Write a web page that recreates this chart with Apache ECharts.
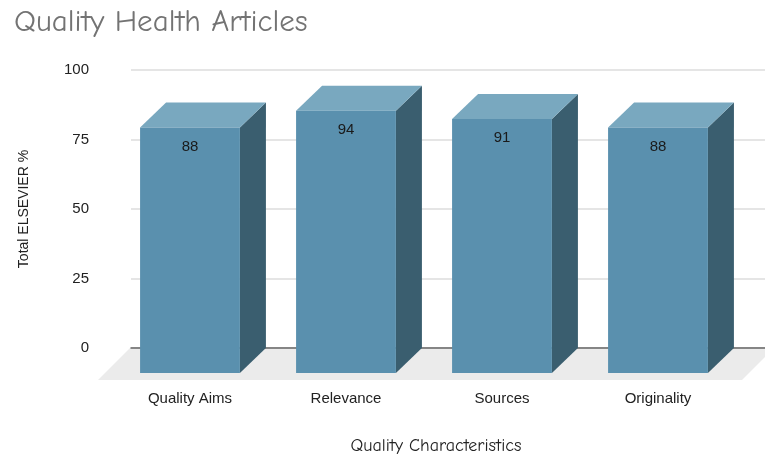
<!DOCTYPE html>
<html>
<head>
<meta charset="utf-8">
<script src="https://cdn.jsdelivr.net/npm/echarts@6/dist/echarts.min.js"></script>
<style>html,body{margin:0;padding:0;background:#fff}#c{width:765px;height:457px}</style>
</head>
<body>
<div id="c"></div>
<script>
var categories = ['Quality Aims', 'Relevance', 'Sources', 'Originality'];
var values = [88, 94, 91, 88];
var yTicks = [0, 25, 50, 75, 100];

var DX = 26, DY = 25;
var comic = "'Comic Sans MS', 'Comic Neue', 'DejaVu Sans', sans-serif";
var sans = "Arial, 'Liberation Sans', sans-serif";

var chart = echarts.init(document.getElementById('c'));
chart.setOption({
  animation: false,
  backgroundColor: '#ffffff',
  title: {
    text: 'Quality Health Articles', left: 9, top: 2,
    textStyle: { fontFamily: comic, fontSize: 31, fontWeight: 'normal', color: '#737373' }
  },
  grid: [
    { left: 131, right: 0, top: 70, bottom: 109, outerBoundsMode: 'none', containLabel: false },
    { left: 112, width: 624, top: 94, bottom: 84, outerBoundsMode: 'none', containLabel: false }
  ],
  xAxis: [
    { gridIndex: 0, type: 'category', data: [''], z: 2,
      axisLine: { show: true, lineStyle: { color: '#666', width: 1.5 } },
      axisTick: { show: false }, axisLabel: { show: false }, splitLine: { show: false } },
    { gridIndex: 1, type: 'category', data: categories,
      axisLine: { show: false }, axisTick: { show: false },
      axisLabel: { margin: 18, fontSize: 15, color: '#222', fontFamily: sans },
      name: 'Quality Characteristics', nameLocation: 'middle', nameGap: 64,
      nameTextStyle: { fontFamily: comic, fontSize: 18, color: '#222', padding: [0, 0, 0, 24] } }
  ],
  yAxis: [
    { gridIndex: 0, type: 'value', min: yTicks[0], max: yTicks[yTicks.length - 1], interval: 25,
      axisLine: { show: false }, axisTick: { show: false },
      axisLabel: { margin: 42, fontSize: 15, color: '#222', fontFamily: sans },
      splitLine: { lineStyle: { color: '#dcdcdc', width: 1.5 } },
      name: 'Total ELSEVIER %', nameLocation: 'middle', nameGap: 100, nameRotate: 90,
      nameTextStyle: { fontFamily: sans, fontSize: 14, color: '#222' } },
    { gridIndex: 1, type: 'value', min: 0, max: 100, show: false }
  ],
  series: [
    {
      type: 'custom', xAxisIndex: 1, yAxisIndex: 1, z: 1, silent: true,
      data: [[0, 0]],
      renderItem: function (params, api) {
        var cs = params.coordSys;
        var bottom = cs.y + cs.height;
        var fx0 = cs.x - 14, fx1 = cs.x + cs.width + 6, fy = bottom + 7, d = 32;
        return {
          type: 'polygon',
          shape: { points: [[fx0, fy], [fx1, fy], [fx1 + d, fy - d], [fx0 + d, fy - d]] },
          style: { fill: '#ebebeb' }
        };
      }
    },
    {
      type: 'custom', xAxisIndex: 1, yAxisIndex: 1, z: 3,
      data: values.map(function (v, i) { return [i, v]; }),
      renderItem: function (params, api) {
        var idx = api.value(0), v = api.value(1);
        var p0 = api.coord([idx, 0]);
        var p1 = api.coord([idx, v]);
        var band = api.size([1, 0])[0];
        var w = band * 0.64;
        var x0 = p0[0] - w / 2, x1 = p0[0] + w / 2;
        var y0 = p0[1], y1 = p1[1];
        return {
          type: 'group',
          children: [
            { type: 'polygon', shape: { points: [[x1, y1], [x1 + DX, y1 - DY], [x1 + DX, y0 - DY], [x1, y0]] },
              style: { fill: '#3a5e6f' } },
            { type: 'polygon', shape: { points: [[x0, y1], [x0 + DX, y1 - DY], [x1 + DX, y1 - DY], [x1, y1]] },
              style: { fill: '#79a8bf' } },
            { type: 'rect', shape: { x: x0, y: y1, width: w, height: y0 - y1 },
              style: { fill: '#5a90ae' } },
            { type: 'text', x: p0[0], y: y1 + 19,
              style: { text: String(v), fill: '#1a1a1a', fontSize: 15, fontFamily: sans,
                       align: 'center', verticalAlign: 'middle' } }
          ]
        };
      }
    }
  ]
});
</script>
</body>
</html>
